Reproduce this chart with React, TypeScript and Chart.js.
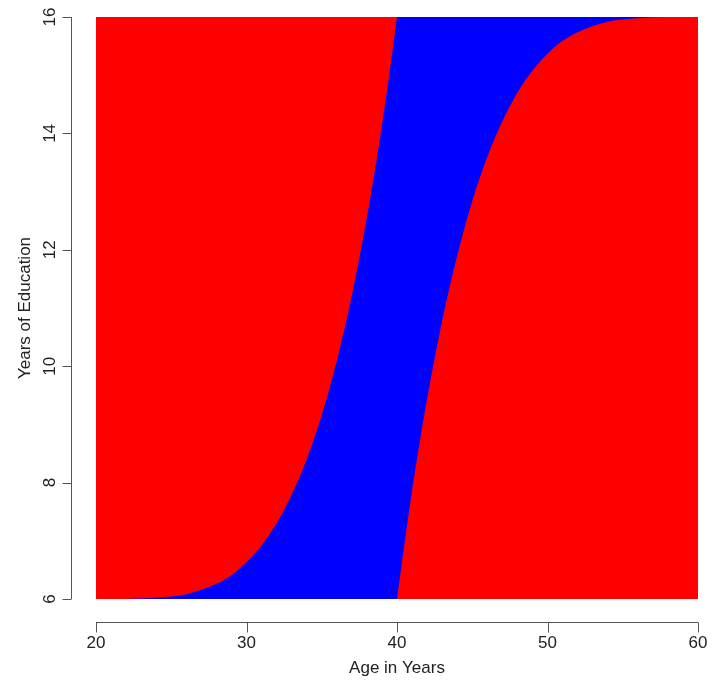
import React, { useEffect, useRef } from "react";
import { Chart, registerables } from "chart.js";

Chart.register(...registerables);

// Boundary of the blue region on the left: education reached by age (ages 20–40)
const AGE_LEFT = [20, 22, 24, 26, 28, 29, 30, 31, 32, 33, 34, 35, 36, 37, 38, 38.5, 39, 39.5, 40];
const EDU_LEFT = [6.0, 6.0, 6.02, 6.08, 6.26, 6.41, 6.63, 6.92, 7.3, 7.79, 8.4, 9.16, 10.1, 11.22, 12.56, 13.32, 14.14, 15.04, 16.0];

// Boundary of the blue region on the right (ages 40–60)
const AGE_RIGHT = [40, 40.5, 41, 41.5, 42, 43, 44, 45, 46, 47, 48, 49, 50, 51, 52, 54, 56, 58, 60];
const EDU_RIGHT = [6.0, 6.96, 7.86, 8.68, 9.44, 10.78, 11.9, 12.84, 13.6, 14.21, 14.7, 15.08, 15.37, 15.59, 15.74, 15.92, 15.98, 16.0, 16.0];

const X_TICKS = [20, 30, 40, 50, 60];
const Y_TICKS = [6, 8, 10, 12, 14, 16];
const X_TITLE = "Age in Years";
const Y_TITLE = "Years of Education";

const RED = "#ff0000";
const BLUE = "#0000ff";
const FONT = '17px "Liberation Sans", Arial, Helvetica, sans-serif';

export default function App() {
  const ref = useRef<HTMLCanvasElement | null>(null);

  useEffect(() => {
    const canvas = ref.current;
    if (!canvas) return;

    const background = {
      id: "plotBackground",
      beforeDatasetsDraw(chart: any) {
        const { ctx, chartArea } = chart;
        ctx.save();
        ctx.fillStyle = RED;
        ctx.fillRect(chartArea.left, chartArea.top, chartArea.right - chartArea.left, chartArea.bottom - chartArea.top);
        ctx.restore();
      },
    };

    const axes = {
      id: "rAxes",
      afterDraw(chart: any) {
        const { ctx, chartArea } = chart;
        const xs = chart.scales.x;
        const ys = chart.scales.y;
        ctx.save();
        ctx.strokeStyle = "#555555";
        ctx.lineWidth = 1;
        ctx.fillStyle = "#222222";
        ctx.font = FONT;

        // Y axis
        const ax = chartArea.left - 25 + 0.5;
        const y0 = ys.getPixelForValue(Y_TICKS[0]);
        const y1 = ys.getPixelForValue(Y_TICKS[Y_TICKS.length - 1]);
        ctx.beginPath();
        ctx.moveTo(ax, y0);
        ctx.lineTo(ax, y1);
        Y_TICKS.forEach((t) => {
          const py = Math.round(ys.getPixelForValue(t)) + 0.5;
          ctx.moveTo(ax, py);
          ctx.lineTo(ax - 9, py);
        });
        ctx.stroke();
        ctx.textAlign = "center";
        ctx.textBaseline = "middle";
        Y_TICKS.forEach((t) => {
          const py = ys.getPixelForValue(t);
          ctx.save();
          ctx.translate(ax - 21, py);
          ctx.rotate(-Math.PI / 2);
          ctx.fillText(String(t), 0, 0);
          ctx.restore();
        });
        ctx.save();
        ctx.translate(25, (chartArea.top + chartArea.bottom) / 2);
        ctx.rotate(-Math.PI / 2);
        ctx.fillText(Y_TITLE, 0, 0);
        ctx.restore();

        // X axis
        const ay = chartArea.bottom + 23 + 0.5;
        const x0 = xs.getPixelForValue(X_TICKS[0]);
        const x1 = xs.getPixelForValue(X_TICKS[X_TICKS.length - 1]);
        ctx.beginPath();
        ctx.moveTo(x0, ay);
        ctx.lineTo(x1, ay);
        X_TICKS.forEach((t) => {
          const px = Math.round(xs.getPixelForValue(t)) + 0.5;
          ctx.moveTo(px, ay);
          ctx.lineTo(px, ay + 10);
        });
        ctx.stroke();
        X_TICKS.forEach((t) => {
          ctx.fillText(String(t), xs.getPixelForValue(t), ay + 21);
        });
        ctx.fillText(X_TITLE, (chartArea.left + chartArea.right) / 2, ay + 46);
        ctx.restore();
      },
    };

    const chart = new Chart(canvas, {
      type: "line",
      data: {
        datasets: [
          {
            data: AGE_LEFT.map((a, i) => ({ x: a, y: EDU_LEFT[i] })),
            borderWidth: 0,
            borderColor: BLUE,
            backgroundColor: BLUE,
            pointRadius: 0,
            fill: "start",
            cubicInterpolationMode: "monotone",
          },
          {
            data: AGE_RIGHT.map((a, i) => ({ x: a, y: EDU_RIGHT[i] })),
            borderWidth: 0,
            borderColor: BLUE,
            backgroundColor: BLUE,
            pointRadius: 0,
            fill: "end",
            cubicInterpolationMode: "monotone",
          },
        ],
      },
      options: {
        responsive: false,
        animation: false,
        devicePixelRatio: 1,
        layout: { padding: { left: 96, right: 20, top: 17, bottom: 82 } },
        scales: {
          x: { type: "linear", min: 20, max: 60, display: false },
          y: { type: "linear", min: 6, max: 16, display: false },
        },
        plugins: {
          legend: { display: false },
          tooltip: { enabled: false },
        },
      },
      plugins: [background, axes],
    });

    return () => chart.destroy();
  }, []);

  return (
    <div style={{ position: "absolute", left: 0, top: 0, width: 718, height: 681, background: "#ffffff" }}>
      <canvas ref={ref} width={718} height={681} />
    </div>
  );
}
